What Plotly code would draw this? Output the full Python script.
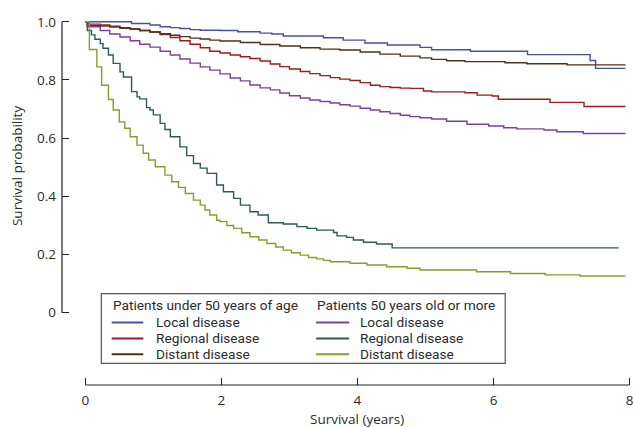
import plotly.graph_objects as go

# ---------------- data ----------------
t_local_u50 = [0, 0.68, 0.8, 0.95, 1.1, 1.25, 1.39, 1.54, 1.69, 1.98, 2.24, 2.57, 2.74, 2.91, 3.5, 3.79, 4.11, 4.44, 4.92, 5.09, 5.66, 6.5, 7.42, 7.5, 7.94]
s_local_u50 = [1.0, 0.994, 0.994, 0.989, 0.983, 0.98, 0.977, 0.973, 0.971, 0.970, 0.966, 0.961, 0.958, 0.951, 0.945, 0.937, 0.927, 0.92, 0.912, 0.904, 0.899, 0.887, 0.867, 0.84, 0.84]

t_regional_u50 = [0, 0.05, 0.22, 0.36, 0.51, 0.66, 0.8, 0.95, 1.1, 1.25, 1.39, 1.54, 1.69, 1.83, 1.98, 2.13, 2.28, 2.42, 2.57, 2.72, 2.86, 3.0, 3.16, 3.3, 3.45, 3.6, 3.74, 3.89, 4.04, 4.19, 4.33, 4.48, 4.63, 4.78, 4.97, 5.09, 5.58, 5.76, 5.98, 6.07, 6.83, 7.33, 7.94]
s_regional_u50 = [1.0, 0.992, 0.989, 0.985, 0.980, 0.975, 0.970, 0.965, 0.956, 0.946, 0.935, 0.923, 0.911, 0.899, 0.893, 0.886, 0.880, 0.874, 0.865, 0.855, 0.846, 0.838, 0.829, 0.822, 0.815, 0.808, 0.803, 0.798, 0.791, 0.782, 0.777, 0.774, 0.772, 0.771, 0.762, 0.759, 0.756, 0.748, 0.745, 0.734, 0.723, 0.709, 0.709]

t_distant_u50 = [0, 0.03, 0.22, 0.36, 0.51, 0.66, 0.8, 0.95, 1.1, 1.25, 1.39, 1.54, 1.69, 1.83, 1.98, 2.28, 2.57, 2.86, 3.16, 3.45, 3.74, 4.04, 4.33, 4.63, 4.92, 5.09, 5.31, 5.58, 6.17, 6.49, 7.08, 7.94]
s_distant_u50 = [1.0, 0.987, 0.985, 0.982, 0.978, 0.975, 0.970, 0.965, 0.959, 0.954, 0.949, 0.944, 0.941, 0.937, 0.934, 0.929, 0.922, 0.917, 0.911, 0.906, 0.903, 0.896, 0.889, 0.882, 0.876, 0.871, 0.866, 0.863, 0.859, 0.856, 0.852, 0.852]

t_local_o50 = [0, 0.03, 0.22, 0.36, 0.51, 0.66, 0.8, 0.95, 1.1, 1.25, 1.39, 1.54, 1.69, 1.83, 1.98, 2.13, 2.28, 2.42, 2.57, 2.72, 2.86, 3.0, 3.16, 3.3, 3.45, 3.6, 3.74, 3.89, 4.04, 4.19, 4.33, 4.48, 4.63, 4.77, 4.92, 5.09, 5.31, 5.61, 5.93, 6.15, 6.34, 6.74, 6.93, 7.32, 7.94]
s_local_o50 = [1.0, 0.983, 0.970, 0.958, 0.948, 0.935, 0.923, 0.913, 0.899, 0.886, 0.872, 0.858, 0.845, 0.834, 0.821, 0.807, 0.797, 0.783, 0.773, 0.766, 0.755, 0.746, 0.738, 0.731, 0.726, 0.721, 0.715, 0.710, 0.703, 0.697, 0.691, 0.685, 0.679, 0.674, 0.670, 0.666, 0.658, 0.648, 0.642, 0.636, 0.632, 0.628, 0.622, 0.616, 0.616]

t_regional_o50 = [0, 0.03, 0.09, 0.14, 0.22, 0.26, 0.34, 0.41, 0.51, 0.56, 0.68, 0.76, 0.8, 0.9, 0.95, 1.0, 1.1, 1.17, 1.25, 1.39, 1.49, 1.59, 1.69, 1.79, 1.93, 2.03, 2.18, 2.28, 2.42, 2.54, 2.69, 2.91, 3.11, 3.26, 3.4, 3.65, 3.7, 3.84, 3.94, 4.09, 4.28, 4.51, 7.84]
s_regional_o50 = [1.0, 0.97, 0.955, 0.94, 0.925, 0.909, 0.886, 0.857, 0.828, 0.81, 0.76, 0.742, 0.735, 0.705, 0.697, 0.68, 0.651, 0.63, 0.605, 0.57, 0.54, 0.513, 0.497, 0.479, 0.439, 0.416, 0.393, 0.37, 0.347, 0.336, 0.309, 0.305, 0.296, 0.29, 0.284, 0.276, 0.264, 0.259, 0.25, 0.242, 0.236, 0.223, 0.223]

t_distant_o50 = [0, 0.06, 0.17, 0.24, 0.34, 0.41, 0.5, 0.58, 0.66, 0.76, 0.85, 0.93, 1.03, 1.17, 1.27, 1.37, 1.47, 1.59, 1.69, 1.76, 1.83, 1.93, 1.98, 2.08, 2.18, 2.3, 2.42, 2.55, 2.67, 2.8, 2.91, 3.03, 3.16, 3.28, 3.4, 3.5, 3.6, 3.89, 4.14, 4.43, 4.73, 4.92, 5.75, 6.25, 6.76, 7.27, 7.94]
s_distant_o50 = [1.0, 0.905, 0.845, 0.782, 0.733, 0.697, 0.656, 0.634, 0.605, 0.576, 0.548, 0.525, 0.502, 0.473, 0.45, 0.431, 0.41, 0.387, 0.37, 0.353, 0.336, 0.318, 0.313, 0.30, 0.29, 0.275, 0.261, 0.25, 0.238, 0.226, 0.215, 0.206, 0.198, 0.19, 0.185, 0.18, 0.175, 0.17, 0.164, 0.158, 0.153, 0.147, 0.141, 0.135, 0.13, 0.126, 0.126]

series_names = ["Local disease", "Regional disease", "Distant disease"]
x_tickvals = [0, 2, 4, 6, 8]
y_tickvals = [0, 0.2, 0.4, 0.6, 0.8, 1.0]
y_ticktext = ["0", "0.2", "0.4", "0.6", "0.8", "1.0"]
legend_title_u50 = "Patients under 50 years of age"
legend_title_o50 = "Patients 50 years old or more"
x_title = "Survival (years)"
y_title = "Survival probability"

# ---------------- layout constants (screen pixels) ----------------
FW, FH = 633, 427                 # figure = window (body margin removed below)
YAX_X = 62                        # x of y-axis line (left edge of plot area)
XAX_Y = 385                       # y of x-axis line (bottom of plot area)
RIGHT_X = 632.7                   # right edge of plot area
TOP_Y = 15.9                      # top edge of plot area
X0PX, XPX_PER = 85.3, 68.0        # x of t=0, px per year
Y0PX, YPX_PER = 312.7, 291.0      # y of s=0, px per unit

ML = YAX_X
MT = TOP_Y
MB = FH - XAX_Y
MR = FW - RIGHT_X
PW, PH = FW - ML - MR, FH - MT - MB

XR = [(YAX_X - X0PX) / XPX_PER, (RIGHT_X - X0PX) / XPX_PER]
YR = [(Y0PX - XAX_Y) / YPX_PER, (Y0PX - TOP_Y) / YPX_PER]


def xp(sx):
    return (sx - ML) / PW


def yp(sy):
    return (FH - MB - sy) / PH


colors_u50 = ["#4b4f9e", "#9b1d1d", "#4e3316"]
colors_o50 = ["#7b3f9f", "#2f5b52", "#8b9a2c"]

LFONT = "Roboto"
AFONT = "Open Sans"
TXT = "#2b2b2b"
AXC = "#222222"

fig = go.Figure()
groups = [
    ([t_local_u50, t_regional_u50, t_distant_u50],
     [s_local_u50, s_regional_u50, s_distant_u50], colors_u50),
    ([t_local_o50, t_regional_o50, t_distant_o50],
     [s_local_o50, s_regional_o50, s_distant_o50], colors_o50),
]
for ts, ss, cs in groups:
    for name, t, s, c in zip(series_names, ts, ss, cs):
        fig.add_trace(go.Scatter(x=t, y=s, mode="lines", name=name,
                                 line=dict(color=c, width=1.4, shape="hv"),
                                 showlegend=False))

fig.update_layout(
    width=FW, height=FH,
    margin=dict(l=ML, r=MR, t=MT, b=MB, autoexpand=False),
    paper_bgcolor="white", plot_bgcolor="white",
    font=dict(family=LFONT, size=13, color=TXT),
    showlegend=False,
    xaxis=dict(domain=[0, 1], range=XR,
               showgrid=False, zeroline=False, showline=False,
               ticks="inside", ticklen=7, tickwidth=1.2, tickcolor=AXC,
               tickvals=x_tickvals, ticklabelstandoff=5, ticklabeloverflow="allow",
               tickfont=dict(family=AFONT, size=13.5, color=TXT)),
    yaxis=dict(domain=[0, 1], range=YR,
               showgrid=False, zeroline=False, showline=False,
               ticks="inside", ticklen=7, tickwidth=1.2, tickcolor=AXC,
               tickvals=y_tickvals, ticktext=y_ticktext, ticklabelstandoff=5,
               ticklabeloverflow="allow",
               tickfont=dict(family=AFONT, size=13.5, color=TXT)),
)

# detached axis lines
fig.add_shape(type="line", xref="paper", yref="y", x0=0, x1=0, y0=0, y1=1,
              line=dict(color=AXC, width=1.2))
fig.add_shape(type="line", xref="x", yref="paper", x0=0, x1=8, y0=0, y1=0,
              line=dict(color=AXC, width=1.2))

# legend frame
fig.add_shape(type="rect", xref="paper", yref="paper",
              x0=xp(101.3), x1=xp(505), y0=yp(363.3), y1=yp(293.7),
              line=dict(color="#555555", width=1.2), fillcolor="white", layer="above")

# legend contents (two columns)
row_y = [321.8, 337.6, 353.5]
cols = [
    dict(title=legend_title_u50, x_line=111.7, line_len=31.6, x_text=155.0, colors=colors_u50),
    dict(title=legend_title_o50, x_line=316.0, line_len=33.0, x_text=359.3, colors=colors_o50),
]
LSIZE = 13.7
for col in cols:
    fig.add_annotation(text=col["title"], xref="paper", yref="paper",
                       x=xp(col["x_line"] - 1), y=yp(305.2), xanchor="left", yanchor="middle",
                       showarrow=False, font=dict(family=LFONT, size=LSIZE, color=TXT))
    for name, c, ry in zip(series_names, col["colors"], row_y):
        fig.add_shape(type="line", xref="paper", yref="paper",
                      x0=xp(col["x_line"]), x1=xp(col["x_line"] + col["line_len"]),
                      y0=yp(ry + 0.8), y1=yp(ry + 0.8), line=dict(color=c, width=2))
        fig.add_annotation(text=name, xref="paper", yref="paper",
                           x=xp(col["x_text"] - 1), y=yp(ry), xanchor="left", yanchor="middle",
                           showarrow=False, font=dict(family=LFONT, size=LSIZE, color=TXT))

# axis titles
fig.add_annotation(text=y_title, xref="paper", yref="paper",
                   x=xp(17), y=yp(166), textangle=-90, showarrow=False,
                   xanchor="center", yanchor="middle",
                   font=dict(family=AFONT, size=13.5, color=TXT))
fig.add_annotation(text=x_title, xref="paper", yref="paper",
                   x=xp(356.5), y=yp(419.5), showarrow=False,
                   xanchor="center", yanchor="middle",
                   font=dict(family=AFONT, size=13.5, color=TXT))

fig.write_html(
    "out.html",
    config={"displayModeBar": False},
    post_script="document.body.style.margin='0';document.body.style.overflow='hidden';",
)
